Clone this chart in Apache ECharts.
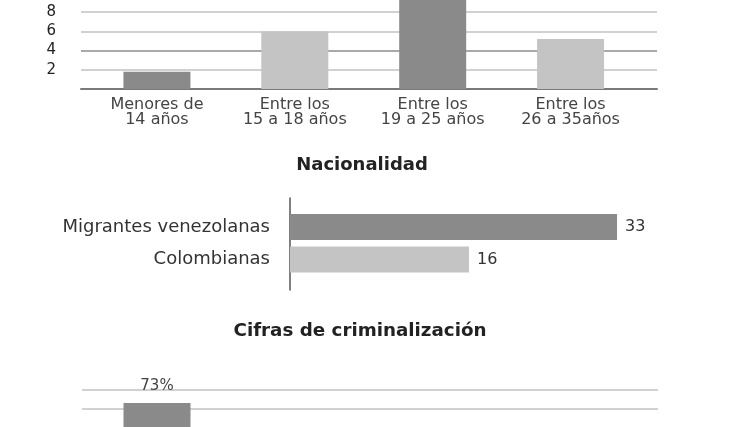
<!DOCTYPE html>
<html>
<head>
<meta charset="utf-8">
<script src="https://cdn.jsdelivr.net/npm/echarts@6/dist/echarts.min.js"></script>
<style>html,body{margin:0;padding:0;background:#fff}#c{width:747px;height:427px}</style>
</head>
<body>
<div id="c"></div>
<script>
// Data
const ageCategories = ['Menores de\n14 años', 'Entre los\n15 a 18 años', 'Entre los\n19 a 25 años', 'Entre los\n26 a 35años'];
const ageValues = [1.8, 6, 10, 5.2];
const nationalityCategories = ['Migrantes venezolanas', 'Colombianas'];
const nationalityValues = [33, 16];
const criminalizationCategories = [''];
const criminalizationValues = [73];
const titles = ['Nacionalidad', 'Cifras de criminalización'];

const DARK = '#8a8a8a', LIGHT = '#c4c4c4';
const FONT = 'DejaVu Sans';
const alt = p => (p.dataIndex % 2 === 0 ? DARK : LIGHT);

const chart = echarts.init(document.getElementById('c'), null, {renderer: 'canvas'});
chart.setOption({
  animation: false,
  backgroundColor: '#fff',
  textStyle: {fontFamily: FONT},
  title: [
    {text: titles[0], left: 362, top: 156, textAlign: 'center', padding: 0,
     textStyle: {fontFamily: FONT, fontWeight: 'bold', fontSize: 18, color: '#222'}},
    {text: titles[1], left: 360, top: 322, textAlign: 'center', padding: 0,
     textStyle: {fontFamily: FONT, fontWeight: 'bold', fontSize: 18.3, color: '#222'}}
  ],
  grid: [
    {left: 81, right: 90, top: 12.2, bottom: 338},      // 0 age gridlines
    {left: 88, right: 107.5, top: 12.2, bottom: 338},   // 1 age bars
    {left: 290, right: 69, top: 198, height: 92},       // 2 nationality axis line
    {left: 290, right: 69, top: 210.75, height: 65},    // 3 nationality bars
    {left: 82, right: 89, top: 390, bottom: 0},         // 4 criminalization gridlines
    {left: 88, right: 521, top: 390, bottom: 0}         // 5 criminalization bars
  ],
  xAxis: [
    {gridIndex: 0, type: 'category', data: ageCategories, axisLabel: {show: false}, axisTick: {show: false},
     axisLine: {lineStyle: {color: '#7a7a7a', width: 2}}},
    {gridIndex: 1, type: 'category', data: ageCategories, axisLine: {show: false}, axisTick: {show: false},
     axisLabel: {fontFamily: FONT, fontSize: 16, lineHeight: 14.5, color: '#444', margin: 9, interval: 0}},
    {gridIndex: 2, type: 'value', show: false, min: 0, max: 40},
    {gridIndex: 3, type: 'value', show: false, min: -4.56, max: 40, startValue: -4.56},
    {gridIndex: 4, type: 'category', data: criminalizationCategories, show: false},
    {gridIndex: 5, type: 'category', data: criminalizationCategories, show: false}
  ],
  yAxis: [
    {gridIndex: 0, type: 'value', min: 0, max: 8, interval: 2,
     axisLine: {show: false}, axisTick: {show: false},
     axisLabel: {fontFamily: FONT, fontSize: 15, color: '#222', margin: 25, formatter: v => (v === 0 ? '' : String(v))},
     splitLine: {lineStyle: {color: ['#7a7a7a', '#c2c2c2', '#8c8c8c', '#c2c2c2', '#c2c2c2'], width: 1.5}}},
    {gridIndex: 1, type: 'value', min: 0, max: 8, show: false},
    {gridIndex: 2, type: 'category', data: nationalityCategories, axisLabel: {show: false}, axisTick: {show: false},
     axisLine: {lineStyle: {color: '#555', width: 1.5}}},
    {gridIndex: 3, type: 'category', data: nationalityCategories, inverse: true,
     axisLine: {show: false}, axisTick: {show: false},
     axisLabel: {fontFamily: FONT, fontSize: 18, color: '#333', margin: 20}},
    {gridIndex: 4, type: 'value', min: 60, max: 80, interval: 10,
     axisLine: {show: false}, axisTick: {show: false}, axisLabel: {show: false},
     splitLine: {lineStyle: {color: ['rgba(0,0,0,0)', '#c2c2c2', '#c2c2c2'], width: 1.5}}},
    {gridIndex: 5, type: 'value', min: 60, max: 80, show: false}
  ],
  series: [
    {type: 'bar', xAxisIndex: 1, yAxisIndex: 1, data: ageValues, barWidth: 67, clip: false,
     itemStyle: {color: alt}},
    {type: 'bar', xAxisIndex: 3, yAxisIndex: 3, data: nationalityValues, barWidth: 26,
     itemStyle: {color: alt},
     label: {show: true, position: 'right', distance: 8, fontFamily: FONT, fontSize: 16, color: '#333'}},
    {type: 'bar', xAxisIndex: 5, yAxisIndex: 5, data: criminalizationValues, barWidth: 67,
     itemStyle: {color: DARK},
     label: {show: true, position: 'top', distance: 9, fontFamily: FONT, fontSize: 15, color: '#444',
             formatter: p => p.value + '%'}}
  ]
});
</script>
</body>
</html>
